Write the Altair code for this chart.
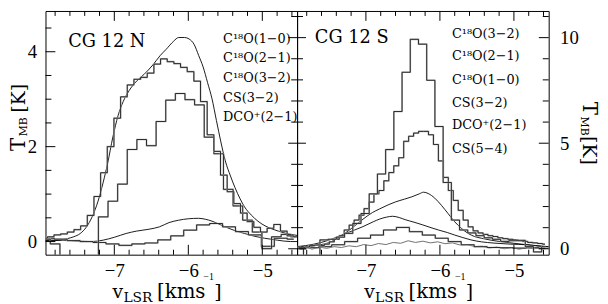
import altair as alt
import pandas as pd

# ---------------- axes / ranges ----------------
X_DOMAIN = [-7.93, -4.53]
N_Y_DOMAIN = [-0.277, 4.859]
S_Y_DOMAIN = [-0.28, 11.262]
X_LABELS = [-7, -6, -5]
X_MINOR = [-7.8, -7.6, -7.4, -7.2, -6.8, -6.6, -6.4, -6.2, -5.8, -5.6, -5.4, -5.2, -4.8, -4.6]
N_Y_LABELS = [0, 2, 4]
N_Y_MINOR = [0.5, 1, 1.5, 2.5, 3, 3.5, 4.5]
S_Y_LABELS = [0, 5, 10]
S_Y_MINOR = [1, 2, 3, 4, 6, 7, 8, 9, 11]

# ---------------- CG 12 N ----------------
N_C18O10_V = [-7.93, -7.80, -7.64, -7.55, -7.46, -7.38, -7.30, -7.22, -7.15, -7.09, -7.02, -6.95,
              -6.88, -6.80, -6.70, -6.60, -6.48, -6.38, -6.30, -6.20, -6.13, -6.05, -5.99, -5.92,
              -5.86, -5.80, -5.74, -5.68, -5.62, -5.56, -5.50, -5.43, -5.37, -5.30, -5.24, -5.15,
              -5.06, -4.95, -4.84, -4.72, -4.62, -4.53]
N_C18O10_T = [0.02, 0.02, 0.06, 0.10, 0.17, 0.30, 0.52, 0.85, 1.25, 1.65, 2.20, 2.65,
              2.95, 3.18, 3.38, 3.52, 3.72, 3.92, 4.05, 4.22, 4.30, 4.30, 4.27, 4.15,
              3.92, 3.68, 3.35, 3.01, 2.55, 2.10, 1.70, 1.38, 1.14, 0.90, 0.73, 0.56,
              0.43, 0.32, 0.25, 0.19, 0.15, 0.13]

N_C18O21_V = [-7.95, -7.86, -7.77, -7.68, -7.59, -7.50, -7.41, -7.32, -7.23, -7.14, -7.05, -6.96,
              -6.87, -6.78, -6.69, -6.60, -6.51, -6.42, -6.33, -6.24, -6.15, -6.06, -5.97, -5.88,
              -5.79, -5.70, -5.61, -5.52, -5.43, -5.34, -5.25, -5.16, -5.07, -4.98, -4.89, -4.80,
              -4.71, -4.62, -4.53]
N_C18O21_T = [0.07, 0.10, 0.14, 0.16, 0.20, 0.25, 0.33, 0.55, 0.95, 1.45, 2.00, 2.60,
              3.05, 3.30, 3.42, 3.46, 3.55, 3.74, 3.85, 3.79, 3.75, 3.67, 3.58, 3.38,
              2.95, 2.25, 1.90, 1.40, 1.05, 0.80, 0.60, 0.42, 0.30, 0.20, 0.28, 0.36,
              0.22, 0.12, 0.10]

N_C18O32_V = [-7.93, -7.80, -7.67, -7.54, -7.41, -7.28, -7.15, -7.02, -6.89, -6.76, -6.63, -6.50,
              -6.37, -6.24, -6.11, -5.98, -5.85, -5.72, -5.59, -5.46, -5.33, -5.20, -5.07, -4.94,
              -4.81, -4.68, -4.55]
N_C18O32_T = [0.05, -0.05, -0.6, -0.6, -0.6, -0.6, 0.52, 0.85, 1.21, 1.94, 2.15, 2.02,
              2.53, 2.98, 3.12, 2.99, 2.88, 2.20, 1.85, 1.10, 0.75, 0.45, 0.20, -0.15,
              0.10, 0.15, 0.10]

N_CS32_V = [-7.93, -7.70, -7.50, -7.30, -7.15, -7.00, -6.84, -6.70, -6.53, -6.39, -6.26, -6.13,
            -6.00, -5.86, -5.77, -5.68, -5.59, -5.50, -5.37, -5.24, -5.10, -4.97, -4.80, -4.62, -4.53]
N_CS32_T = [0.03, 0.03, 0.01, 0.00, 0.03, 0.09, 0.17, 0.22, 0.26, 0.31, 0.40, 0.45,
            0.48, 0.49, 0.47, 0.43, 0.37, 0.31, 0.23, 0.17, 0.11, 0.07, 0.03, 0.00, 0.00]

N_DCO_V = [-7.90, -7.725, -7.55, -7.375, -7.20, -7.025, -6.85, -6.675, -6.50, -6.325, -6.15,
           -5.975, -5.80, -5.625, -5.45, -5.275, -5.10, -4.925, -4.75, -4.575]
N_DCO_T = [0.07, 0.05, 0.02, 0.00, -0.02, -0.05, -0.08, -0.05, -0.03, 0.035, 0.12,
           0.24, 0.35, 0.38, 0.31, 0.21, 0.14, -0.10, 0.07, 0.05]

# ---------------- CG 12 S ----------------
S_C18O32_V = [-7.899, -7.788, -7.677, -7.566, -7.455, -7.344, -7.233, -7.122, -7.011, -6.900,
              -6.789, -6.678, -6.567, -6.456, -6.345, -6.234, -6.123, -6.012, -5.901, -5.790,
              -5.679, -5.568, -5.457, -5.346, -5.235, -5.124, -5.013, -4.902, -4.791, -4.680, -4.569]
S_C18O32_T = [0.00, -0.35, -0.35, 0.42, 0.45, 0.55, 0.73, 1.20, 1.67, 2.60,
              3.54, 4.70, 6.50, 8.36, 9.92, 9.69, 7.98, 5.79, 3.14, 1.36,
              0.89, 0.75, 0.62, 0.52, 0.45, 0.35, 0.38, 0.40, 0.10, -0.15, 0.10]

S_C18O21_V = [-7.930, -7.863, -7.796, -7.729, -7.662, -7.595, -7.528, -7.461, -7.394, -7.327,
              -7.260, -7.193, -7.126, -7.059, -6.992, -6.925, -6.858, -6.791, -6.724, -6.657,
              -6.590, -6.523, -6.456, -6.389, -6.322, -6.255, -6.188, -6.121, -6.054, -5.987,
              -5.920, -5.853, -5.786, -5.719, -5.652, -5.585, -5.518, -5.451, -5.384, -5.317,
              -5.250, -5.183, -5.116, -5.049, -4.982, -4.915, -4.848, -4.781, -4.714, -4.647, -4.580]
S_C18O21_T = [0.10, 0.05, 0.08, 0.15, 0.18, 0.15, 0.22, 0.33, 0.45, 0.62,
              0.89, 1.12, 1.36, 1.59, 1.90, 2.21, 2.60, 2.76, 3.22, 3.61,
              3.93, 4.31, 5.09, 5.33, 5.48, 5.56, 5.56, 5.40, 4.94, 4.16,
              3.38, 2.76, 2.29, 1.82, 1.36, 1.04, 0.85, 0.75, 0.68, 0.62,
              0.58, 0.52, 0.48, 0.45, 0.42, 0.38, 0.35, 0.30, 0.28, 0.25, 0.22]

S_C18O10_V = [-7.93, -7.84, -7.62, -7.49, -7.36, -7.20, -7.04, -6.91, -6.82, -6.70, -6.60, -6.48,
              -6.38, -6.28, -6.22, -6.16, -6.07, -5.98, -5.89, -5.80, -5.71, -5.62, -5.53, -5.44,
              -5.30, -5.18, -5.00, -4.82, -4.65, -4.53]
S_C18O10_T = [0.06, 0.08, 0.19, 0.30, 0.55, 0.95, 1.40, 1.72, 1.88, 2.08, 2.22, 2.35,
              2.46, 2.60, 2.68, 2.62, 2.40, 2.06, 1.67, 1.28, 0.97, 0.73, 0.58, 0.50,
              0.40, 0.34, 0.26, 0.19, 0.12, 0.09]

S_CS32_V = [-7.93, -7.70, -7.49, -7.27, -7.04, -6.90, -6.82, -6.72, -6.64, -6.55, -6.47, -6.35,
            -6.24, -6.12, -6.02, -5.90, -5.80, -5.69, -5.58, -5.44, -5.27, -5.05, -4.82, -4.60, -4.53]
S_CS32_T = [0.10, 0.22, 0.42, 0.73, 1.05, 1.28, 1.40, 1.50, 1.54, 1.48, 1.38, 1.26,
            1.14, 1.00, 0.89, 0.77, 0.65, 0.53, 0.42, 0.33, 0.27, 0.22, 0.19, 0.12, 0.10]

S_DCO_V = [-7.90, -7.725, -7.55, -7.375, -7.20, -7.025, -6.85, -6.675, -6.50, -6.325, -6.15,
           -5.975, -5.80, -5.625, -5.45, -5.275, -5.10, -4.925, -4.75, -4.575]
S_DCO_T = [0.00, 0.05, 0.10, 0.19, 0.34, 0.50, 0.65, 0.89, 1.01, 0.81, 0.65,
           0.50, 0.34, 0.19, 0.10, 0.06, 0.05, 0.03, 0.05, 0.02]

S_CS54_V = [-7.93, -7.83, -7.73, -7.63, -7.53, -7.43, -7.33, -7.23, -7.13, -7.03, -6.93, -6.83,
            -6.73, -6.63, -6.53, -6.43, -6.33, -6.23, -6.13, -6.03, -5.93, -5.83, -5.73, -5.63,
            -5.53, -5.43, -5.33, -5.23, -5.13, -5.03, -4.93, -4.83, -4.73, -4.63, -4.53]
S_CS54_T = [0.05, 0.12, -0.02, 0.08, 0.02, 0.10, 0.06, 0.14, 0.10, 0.20, 0.15, 0.25,
            0.20, 0.30, 0.26, 0.38, 0.30, 0.36, 0.28, 0.33, 0.24, 0.28, 0.18, 0.20,
            0.10, 0.12, 0.04, 0.08, 0.00, 0.06, -0.02, 0.05, 0.00, 0.04, 0.01]

N_LEGEND = ["C\u00b9\u2078O(1\u22120)", "C\u00b9\u2078O(2\u22121)", "C\u00b9\u2078O(3\u22122)",
            "CS(3\u22122)", "DCO\u207a(2\u22121)"]
S_LEGEND = ["C\u00b9\u2078O(3\u22122)", "C\u00b9\u2078O(2\u22121)", "C\u00b9\u2078O(1\u22120)",
            "CS(3\u22122)", "DCO\u207a(2\u22121)", "CS(5\u22124)"]

# ---------------- styling ----------------
W, H = 255, 247
TXT_FONT = "DejaVu Serif"
NUM_FONT = "Liberation Serif"


def xenc():
    return alt.X("v:Q", scale=alt.Scale(domain=X_DOMAIN, nice=False, zero=False),
                 axis=alt.Axis(values=X_LABELS, title=None, grid=False, domain=False, ticks=False,
                               tickSize=0, labelPadding=7, labelFont=NUM_FONT, labelFontSize=19,
                               labelColor="black", labelFlush=False))


def yenc(domain, labels, orient, pad):
    return alt.Y("T:Q", scale=alt.Scale(domain=domain, nice=False, zero=False),
                 axis=alt.Axis(values=labels, orient=orient, title=None, grid=False, domain=False,
                               ticks=False, tickSize=0, labelPadding=pad, labelFont=NUM_FONT,
                               labelFontSize=19, labelColor="black", labelFlush=False))


def spectrum(v, t, ydef, kind):
    df = pd.DataFrame({"v": v, "T": t})
    base = alt.Chart(df)
    if kind == "hist":
        under = base.mark_line(color="#b4b4b4", strokeWidth=1.7, interpolate="step", clip=True)
        over = base.mark_line(color="#1a1a1a", strokeWidth=0.9, interpolate="step", clip=True)
        return [under.encode(x=xenc(), y=ydef), over.encode(x=xenc(), y=ydef)]
    if kind == "noisy":
        return [base.mark_line(color="#707070", strokeWidth=1.0, interpolate="linear", clip=True)
                .encode(x=xenc(), y=ydef)]
    return [base.mark_line(color="#000000", strokeWidth=0.9, interpolate="monotone", clip=True)
            .encode(x=xenc(), y=ydef)]


def xticks(vals, length):
    df = pd.DataFrame({"v": vals})
    b = alt.Chart(df).mark_rule(color="black", strokeWidth=1).encode(
        x=xenc(), y=alt.value(H), y2=alt.value(H - length))
    t = alt.Chart(df).mark_rule(color="black", strokeWidth=1).encode(
        x=xenc(), y=alt.value(0), y2=alt.value(length))
    return [b, t]


def yticks(vals, ydef, x0, x1):
    df = pd.DataFrame({"T": vals})
    return [alt.Chart(df).mark_rule(color="black", strokeWidth=1).encode(
        y=ydef, x=alt.value(x0), x2=alt.value(x1))]


def txt(s, x, y, size, font=TXT_FONT, angle=0):
    return alt.Chart(pd.DataFrame({"s": [s]})).mark_text(
        align="left", baseline="alphabetic", font=font, fontSize=size, angle=angle,
        color="black").encode(x=alt.value(x), y=alt.value(y), text="s:N")


def xtitle():
    return [txt("v", 68, 291, 19), txt("LSR", 79, 295, 14), txt("[kms", 113, 291, 20),
            txt("\u22121", 160, 273, 10, font=NUM_FONT), txt("]", 171, 291, 19)]


# ---------------- left panel ----------------
yN = yenc(N_Y_DOMAIN, N_Y_LABELS, "left", 9)
left_layers = []
left_layers += spectrum(N_C18O10_V, N_C18O10_T, yN, "smooth")
left_layers += spectrum(N_CS32_V, N_CS32_T, yN, "smooth")
left_layers += spectrum(N_DCO_V, N_DCO_T, yN, "hist")
left_layers += spectrum(N_C18O32_V, N_C18O32_T, yN, "hist")
left_layers += spectrum(N_C18O21_V, N_C18O21_T, yN, "hist")
left_layers += xticks(X_MINOR, 5) + xticks(X_LABELS, 10)
left_layers += yticks(N_Y_MINOR, yN, 0, 6) + yticks(N_Y_LABELS, yN, 0, 10)
left_layers += [txt("CG 12 N", 23, 36, 18)]
for i, s in enumerate(N_LEGEND):
    left_layers.append(txt(s, 180, [32, 52, 72, 92, 112][i], 13))
left_layers += xtitle()
left_layers += [txt("T", -21, 142, 20, angle=270), txt("MB", -19, 127, 11, angle=270),
                txt("[K]", -21, 103, 19, angle=270)]
left = alt.layer(*left_layers).properties(width=W, height=H)

# ---------------- right panel ----------------
yS = yenc(S_Y_DOMAIN, S_Y_LABELS, "right", 11)
right_layers = []
right_layers += spectrum(S_CS54_V, S_CS54_T, yS, "noisy")
right_layers += spectrum(S_C18O10_V, S_C18O10_T, yS, "smooth")
right_layers += spectrum(S_CS32_V, S_CS32_T, yS, "smooth")
right_layers += spectrum(S_DCO_V, S_DCO_T, yS, "hist")
right_layers += spectrum(S_C18O21_V, S_C18O21_T, yS, "hist")
right_layers += spectrum(S_C18O32_V, S_C18O32_T, yS, "hist")
right_layers += xticks(X_MINOR, 5) + xticks(X_LABELS, 10)
right_layers += yticks(S_Y_MINOR, yS, -6, 6) + yticks(S_Y_LABELS, yS, -9, 9)
right_layers += yticks(S_Y_MINOR, yS, W, W - 6) + yticks(S_Y_LABELS, yS, W, W - 10)
right_layers += [txt("CG 12 S", 18, 32, 18)]
for i, s in enumerate(S_LEGEND):
    right_layers.append(txt(s, 157, [27, 50, 74, 97, 120, 144][i], 13))
right_layers += xtitle()
right_layers += [txt("T", 290, 92, 20, angle=90), txt("MB", 288, 107, 11, angle=90),
                 txt("[K]", 290, 127, 19, angle=90)]
right = alt.layer(*right_layers).properties(width=W, height=H)

chart = alt.hconcat(left, right, spacing=0, bounds="flush").properties(
    padding={"left": 0, "right": 0, "top": 0, "bottom": 0}
).configure_view(stroke="black", strokeWidth=1)

chart.save("out.html", embed_options={"renderer": "svg", "actions": False})
